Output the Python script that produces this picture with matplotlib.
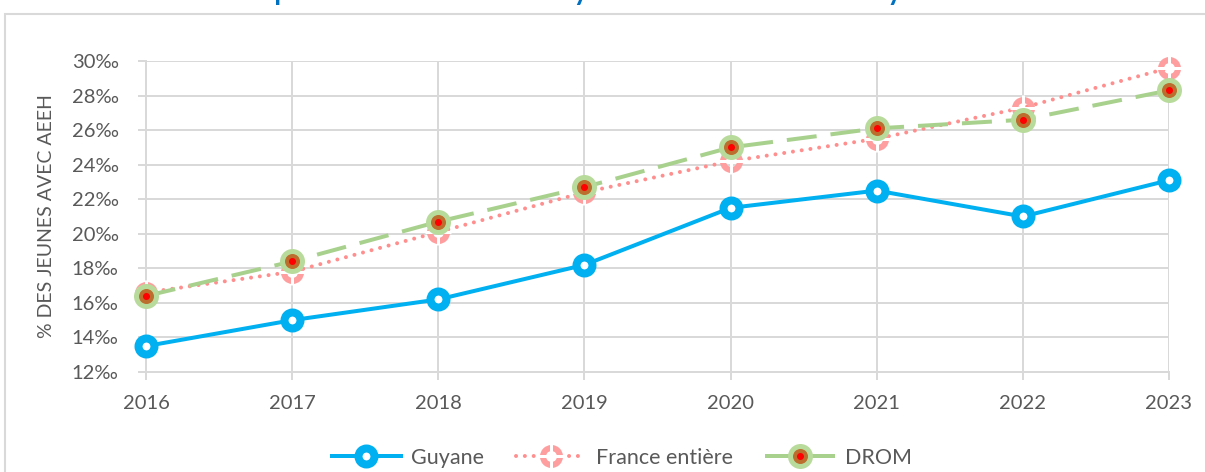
import numpy as np
import matplotlib.pyplot as plt
from matplotlib.patches import Rectangle
from matplotlib.ticker import FuncFormatter

plt.rcParams['font.family'] = ['Lato', 'DejaVu Sans']

# donnees (pour 1000 jeunes)
annees = [2016, 2017, 2018, 2019, 2020, 2021, 2022, 2023]
guyane = [13.5, 15.0, 16.2, 18.2, 21.5, 22.5, 21.0, 23.1]
france = [16.6, 17.8, 20.1, 22.4, 24.2, 25.5, 27.3, 29.6]
drom = [16.4, 18.4, 20.7, 22.7, 25.0, 26.1, 26.6, 28.3]
yticks = [12, 14, 16, 18, 20, 22, 24, 26, 28, 30]

px = 72 / 100  # pixels -> points

fig = plt.figure(figsize=(12.05, 4.72), dpi=100)
ax = fig.add_axes([146/1205, 1-372/472, 1023/1205, 311/472])

# cadre gris du graphique
fig.patches.append(Rectangle((5/1205, -0.05), 1.1, 1-13.5/472+0.05, transform=fig.transFigure,
                             fill=False, edgecolor='#D9D9D9', linewidth=1.5))
# titre (coupe en haut de l'image)
fig.text(50/1205, 1.0, "Évolution du taux pour 1000 des enfants ayant droit à l'AEEH en Guyane et en France",
         color='#0070C0', fontsize=20, fontweight='bold', va='baseline', ha='left')

# France entiere : pointilles roses
l_fr, = ax.plot(annees, france, color='#FF8F8F', linewidth=4*px, linestyle=(0, (0.01, 2.2)),
                dash_capstyle='round', zorder=3, clip_on=False)
m_fr, = ax.plot(annees, france, linestyle='none', marker='o', markersize=17*px,
                markerfacecolor='none', markeredgecolor='#FF9E9E', markeredgewidth=6*px,
                zorder=3, clip_on=False)
m_fr2, = ax.plot(annees, france, linestyle='none', marker='+', markersize=26*px,
                 color='white', markeredgewidth=3*px, zorder=3, clip_on=False)

# DROM : tirets verts
l_dr, = ax.plot(annees, drom, color='#A9D18E', linewidth=4*px, dashes=(7.5, 3.5),
                zorder=4, clip_on=False)
m_dr1, = ax.plot(annees, drom, linestyle='none', marker='o', markersize=25*px,
                 color='#B8DB9C', markeredgewidth=0, zorder=4, clip_on=False)
m_dr2, = ax.plot(annees, drom, linestyle='none', marker='o', markersize=15*px,
                 color='#BB6E2E', markeredgewidth=0, zorder=4, clip_on=False)
m_dr3, = ax.plot(annees, drom, linestyle='none', marker='o', markersize=7*px,
                 color='#FF0000', markeredgewidth=0, zorder=4, clip_on=False)

# Guyane : trait plein bleu
l_gy, = ax.plot(annees, guyane, color='#00B0F0', linewidth=4*px, marker='o',
                markersize=16*px, markerfacecolor='white', markeredgecolor='#00B0F0',
                markeredgewidth=8*px, zorder=5, clip_on=False)

ax.set_xlim(2016, 2023)
ax.set_ylim(12, 30)
ax.set_xticks(annees)
ax.set_yticks(yticks)
ax.yaxis.set_major_formatter(FuncFormatter(lambda v, p: '%d‰' % v))
ax.grid(True, color='#D9D9D9', linewidth=2*px)
ax.set_axisbelow(True)
for s in ['top', 'right']:
    ax.spines[s].set_visible(False)
for s in ['left', 'bottom']:
    ax.spines[s].set_color('#D9D9D9')
    ax.spines[s].set_linewidth(2*px)
ax.tick_params(axis='both', colors='#D9D9D9', labelcolor='#595959', labelsize=14.5,
               length=8*px, width=2*px, direction='out')
ax.tick_params(axis='y', pad=14)
ax.tick_params(axis='x', pad=11)

ax.set_ylabel('% DES JEUNES AVEC AEEH', fontsize=14, color='#595959')
ax.yaxis.set_label_coords(-0.089, 0.5)

fig.legend(handles=[l_gy, (l_fr, m_fr, m_fr2), (l_dr, m_dr1, m_dr2, m_dr3)],
           labels=['Guyane', 'France entière', 'DROM'],
           loc='center', bbox_to_anchor=(0.516, 0.03), ncol=3, frameon=False,
           fontsize=15.5, labelcolor='#595959', handlelength=3.25, columnspacing=1.5,
           handletextpad=0.45)

fig.savefig('out.png', dpi=100)
